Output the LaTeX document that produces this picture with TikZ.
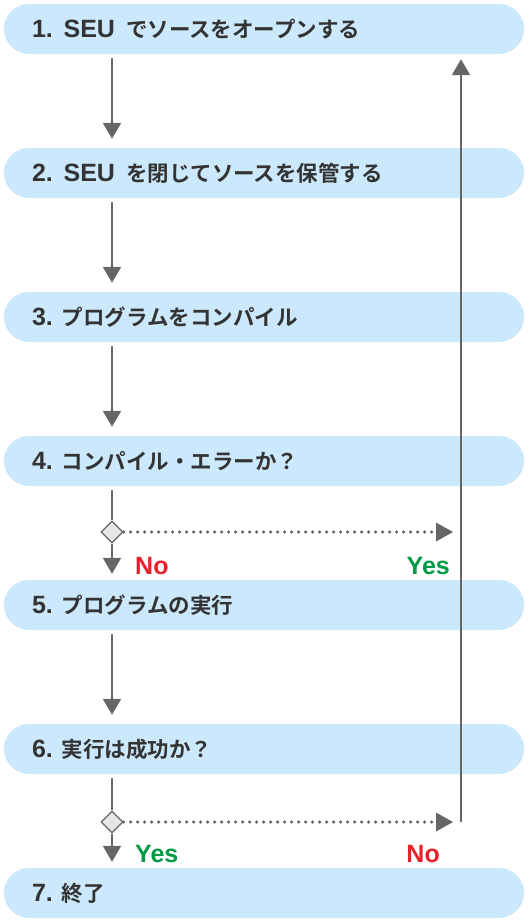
\documentclass[tikz,border=0pt]{standalone}
\usepackage{fontspec}
\setmainfont{Noto Sans CJK JP Bold}
\newfontfamily\lblfont{Liberation Sans}
\newcommand{\lt}[1]{{\lblfont\bfseries\fontsize{25}{24}\selectfont #1}}
\usetikzlibrary{arrows.meta,shapes.geometric}
\definecolor{boxblue}{HTML}{CCE8FC}
\definecolor{arrgray}{HTML}{666666}
\definecolor{txtgray}{HTML}{333333}
\definecolor{dgray}{HTML}{E6E6E6}
\definecolor{nored}{HTML}{E8202A}
\definecolor{yesgreen}{HTML}{009944}
\tikzset{
  stepbox/.style={fill=boxblue, draw=none, rounded corners=25pt, minimum height=50pt, inner ysep=0pt, inner xsep=28pt, text width=464pt, align=left, font=\fontsize{21.5}{24}\selectfont, text=txtgray},
  arr/.style={draw=arrgray, line width=2.2pt, -{Triangle[width=18pt,length=16pt]}},
  plainline/.style={draw=arrgray, line width=2.2pt},
  dotline/.style={draw=arrgray, line width=3.5pt, line cap=round, dash pattern=on 0pt off 7pt, shorten >=8pt},
  decis/.style={diamond, draw=arrgray, fill=dgray, line width=1.2pt, minimum width=22pt, minimum height=22pt, inner sep=0pt},
  lbl/.style={font=\lblfont\bfseries\fontsize{25}{26}\selectfont, inner sep=0pt},
}
\begin{document}
\begin{tikzpicture}[x=1pt,y=-1pt]
\useasboundingbox (0,0) rectangle (528,924);
\coordinate (L) at (112,0);
\node[stepbox] (b1) at (264,29) {\lt{1. SEU}\hspace{11pt}でソースをオープンする};
\node[stepbox] (b2) at (264,173) {\lt{2. SEU}\hspace{11pt}を閉じてソースを保管する};
\node[stepbox] (b3) at (264,317) {\lt{3.}\hspace{9pt}プログラムをコンパイル};
\node[stepbox] (b4) at (264,461) {\lt{4.}\hspace{9pt}コンパイル・エラーか？};
\node[stepbox] (b5) at (264,605) {\lt{5.}\hspace{9pt}プログラムの実行};
\node[stepbox] (b6) at (264,749) {\lt{6.}\hspace{9pt}実行は成功か？};
\node[stepbox] (b7) at (264,893) {\lt{7.}\hspace{9pt}終了};
\draw[arr, shorten <=4pt, shorten >=9pt] (b1.south -| L) -- (b2.north -| L);
\draw[arr, shorten <=4pt, shorten >=9pt] (b2.south -| L) -- (b3.north -| L);
\draw[arr, shorten <=4pt, shorten >=9pt] (b3.south -| L) -- (b4.north -| L);
\draw[arr, shorten <=4pt, shorten >=9pt] (b5.south -| L) -- (b6.north -| L);
% decision after 4
\node[decis] (d4) at (112,532) {};
\coordinate (t4) at (453,532);
\draw[plainline, shorten <=4pt] (b4.south -| L) -- (d4.north);
\draw[arr, shorten >=6pt] (d4.south) -- (b5.north -| L);
\draw[dotline] (d4.east) -- (t4);
\fill[arrgray] (t4) -- ++(-17,-9.5) -- ++(0,19) -- cycle;
\node[lbl, text=nored, anchor=west] (no4) at (135,566) {No};
\node[lbl, text=yesgreen, anchor=east] (yes4) at (450,566) {Yes};
% decision after 6
\node[decis] (d6) at (112,822) {};
\coordinate (t6) at (453,822);
\coordinate (r6) at (461,822);
\draw[plainline, shorten <=4pt] (b6.south -| L) -- (d6.north);
\draw[arr, shorten >=6pt] (d6.south) -- (b7.north -| L);
\draw[dotline] (d6.east) -- (t6);
\fill[arrgray] (t6) -- ++(-17,-9.5) -- ++(0,19) -- cycle;
\node[lbl, text=yesgreen, anchor=west] (yes6) at (135,854) {Yes};
\node[lbl, text=nored, anchor=east] (no6) at (440,854) {No};
% return line
\draw[arr, shorten >=5pt] (r6) -- (b1.south -| r6);
\end{tikzpicture}
\end{document}
